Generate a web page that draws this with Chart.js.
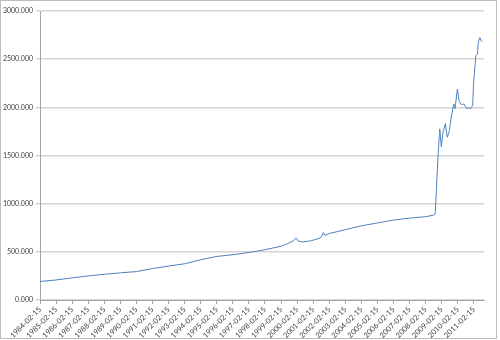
<!DOCTYPE html>
<html>
<head>
<meta charset="utf-8">
<script src="https://cdn.jsdelivr.net/npm/chart.js@4.4.0/dist/chart.umd.min.js"></script>
<style>
    body { margin: 0; background: #fff; }
    .frame { position: absolute; left: 0; top: 0; width: 495px; height: 337px; border: 1px solid #bdbdbd; }
    canvas { display: block; }
</style>
</head>
<body>
<div class="frame"><canvas id="chart" width="495" height="337"></canvas></div>
<script>
// x in decimal years
const years = [
    1984.125, 1985.125, 1986.125, 1987.125, 1988.125, 1989.125, 1990.125, 1991.125,
    1992.125, 1993.125, 1994.125, 1995.125, 1996.125, 1997.125, 1998.125, 1999.125,
    1999.6, 1999.9, 2000.05, 2000.2, 2000.5, 2001.0, 2001.5, 2001.65, 2001.75, 2001.85,
    2002.125, 2003.125, 2004.125, 2005.125, 2006.125, 2007.125, 2008.125, 2008.6,
    2008.72, 2008.78, 2008.85, 2008.9, 2008.97, 2009.0, 2009.1, 2009.2, 2009.35,
    2009.47, 2009.55, 2009.6, 2009.7, 2009.87, 2009.95, 2010.1, 2010.2, 2010.3,
    2010.4, 2010.5, 2010.7, 2010.8, 2010.9, 2011.0, 2011.05, 2011.1, 2011.25,
    2011.35, 2011.4, 2011.5, 2011.55, 2011.65
];
const values = [
    192, 208, 230, 250, 267, 282, 295, 326,
    352, 376, 418, 452, 470, 493, 522, 558,
    590, 615, 645, 612, 603, 615, 640, 655, 700, 672,
    690, 730, 770, 800, 830, 850, 865, 880,
    895, 1100, 1350, 1500, 1700, 1776, 1590, 1740, 1830,
    1690, 1725, 1760, 1880, 2035, 1985, 2190, 2070, 2035,
    2030, 2035, 1985, 2000, 1983, 2010, 2017, 2240, 2535,
    2552, 2680, 2724, 2697, 2680
];
const tickLabels = [
    '1984-02-15', '1985-02-15', '1986-02-15', '1987-02-15', '1988-02-15', '1989-02-15', '1990-02-15',
    '1991-02-15', '1992-02-15', '1993-02-15', '1994-02-15', '1995-02-15', '1996-02-15', '1997-02-15',
    '1998-02-15', '1999-02-15', '2000-02-15', '2001-02-15', '2002-02-15', '2003-02-15', '2004-02-15',
    '2005-02-15', '2006-02-15', '2007-02-15', '2008-02-15', '2009-02-15', '2010-02-15', '2011-02-15'
];

const toYear = (s) => parseInt(s.slice(0, 4)) + 0.125;
const tickYears = tickLabels.map(toYear);

const ctx = document.getElementById('chart').getContext('2d');
new Chart(ctx, {
    type: 'line',
    data: {
        datasets: [{
            data: years.map((y, i) => ({ x: y, y: values[i] })),
            borderColor: '#4f81bd',
            borderWidth: 1,
            pointRadius: 0,
            tension: 0,
        }],
    },
    options: {
        responsive: false,
        animation: false,
        layout: { padding: { top: 10, right: 12, left: 0, bottom: 0 } },
        plugins: { legend: { display: false }, tooltip: { enabled: false } },
        scales: {
            x: {
                type: 'linear',
                min: 1984.125,
                max: 2011.755,
                afterBuildTicks: (scale) => { scale.ticks = tickYears.map((v) => ({ value: v })); },
                afterFit: (scale) => { scale.height = 38; },
                grid: { drawOnChartArea: false, drawTicks: true, tickLength: 4, color: '#a6a6a6' },
                border: { color: '#a6a6a6' },
                ticks: {
                    autoSkip: false,
                    maxRotation: 45,
                    minRotation: 45,
                    padding: 1,
                    color: '#404040',
                    font: { family: 'Lato', size: 7.5 },
                    callback: (v) => tickLabels[tickYears.indexOf(v)],
                },
            },
            y: {
                min: 0,
                max: 3000,
                afterFit: (scale) => { scale.width = 39; },
                grid: { color: '#d4d4d4', lineWidth: 1.5, tickLength: 4 },
                border: { color: '#a6a6a6' },
                ticks: {
                    stepSize: 500,
                    padding: 3,
                    color: '#404040',
                    font: { family: 'Lato', size: 7 },
                    callback: (v) => v.toFixed(3),
                },
            },
        },
    },
});
</script>
</body>
</html>
